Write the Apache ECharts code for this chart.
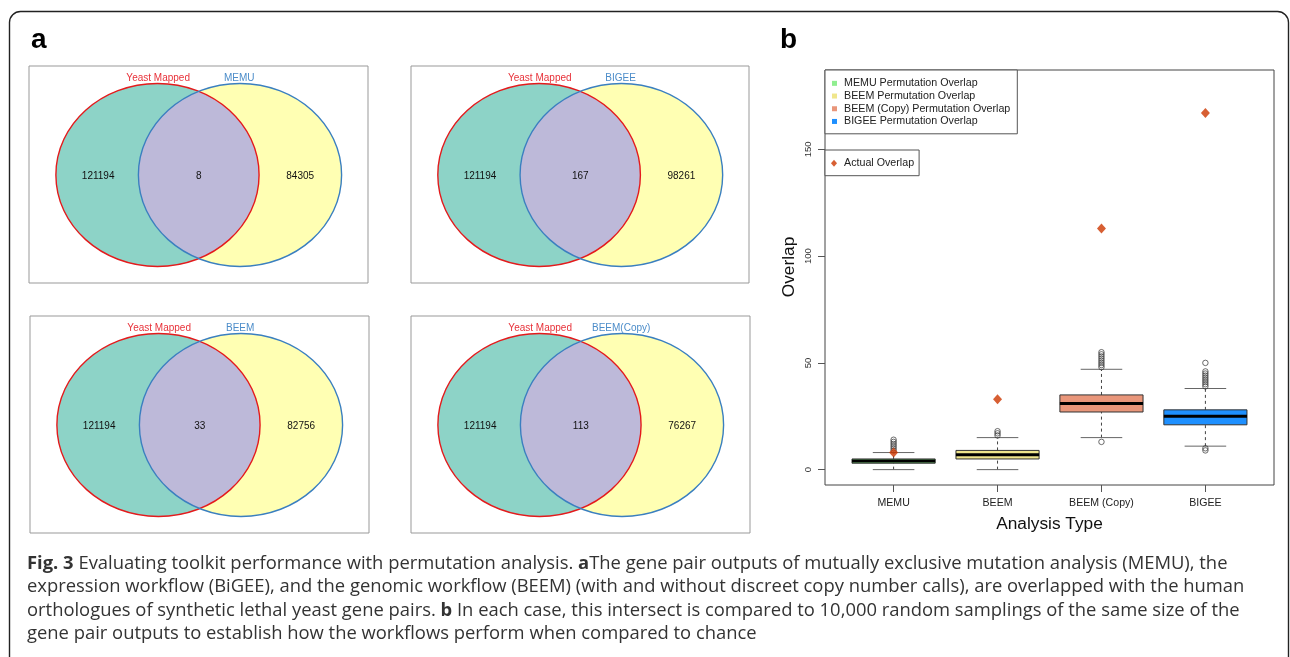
<!DOCTYPE html>
<html><head><meta charset="utf-8">
<script src="https://cdn.jsdelivr.net/npm/echarts@6/dist/echarts.min.js"></script>
<style>html,body{margin:0;padding:0;background:#fff}#c{width:1290px;height:657px}</style>
</head><body><div id="c"></div>
<script>
// ---------- Panel a: Venn diagram data ----------
const vennLeftName = 'Yeast Mapped';
const vennRightNames = ['MEMU', 'BIGEE', 'BEEM', 'BEEM(Copy)'];
const vennLeftOnly = [121194, 121194, 121194, 121194];
const vennOverlap = [8, 167, 33, 113];
const vennRightOnly = [84305, 98261, 82756, 76267];

// ---------- Panel b: permutation boxplot data ----------
const categories = ['MEMU', 'BEEM', 'BEEM (Copy)', 'BIGEE'];
const legendNames = ['MEMU Permutation Overlap', 'BEEM Permutation Overlap', 'BEEM (Copy) Permutation Overlap', 'BIGEE Permutation Overlap'];
const whiskerLow = [0, 0, 15, 11];
const quartile1 = [3, 5, 27, 21];
const medians = [4, 7, 31, 25];
const quartile3 = [5, 9, 35, 28];
const whiskerHigh = [8, 15, 47, 38];
const outliersMEMU = [9, 10, 11, 12, 13, 14];
const outliersBEEM = [16, 17, 18];
const outliersBEEMCopy = [13, 48, 49, 50, 51, 52, 53, 54, 55];
const outliersBIGEE = [9, 10, 39, 40, 41, 42, 43, 44, 45, 46, 50];
const actualOverlap = [8, 33, 113, 167];
const yTickValues = [0, 50, 100, 150];
const xTickValues = [1, 2, 3, 4];

// ---------- styling / layout ----------
const boxColors = ['#90ee90', '#f0e68c', '#e9967a', '#1e90ff'];
const RFONT = 'Liberation Sans, Arial, sans-serif';
const vennPanels = [
  {left: 29, top: 66, width: 339, height: 217},
  {left: 411, top: 66, width: 338, height: 217},
  {left: 30, top: 316, width: 339, height: 217},
  {left: 411, top: 316, width: 339, height: 217}
];
const VENN = {cxL: 0.379, cxR: 0.6224, cy: 0.502, rx: 0.2997, ry: 0.4217,
  labelY: 0.055, labelXL: 0.381, labelXR: 0.62, numXL: 0.204, numXM: 0.501, numXR: 0.80, numY: 0.508};

function vennRender(k) {
  return function (params, api) {
    const c1 = api.coord([VENN.cxL, VENN.cy]);
    const c2 = api.coord([VENN.cxR, VENN.cy]);
    const sz = api.size([VENN.rx, VENN.ry]);
    const rx = sz[0], ry = sz[1];
    const mx = (c1[0] + c2[0]) / 2;
    const d = (c2[0] - c1[0]) / 2;
    const h = ry * Math.sqrt(1 - (d / rx) * (d / rx));
    const cy = c1[1];
    const lens = 'M' + mx + ' ' + (cy - h) + ' A' + rx + ' ' + ry + ' 0 0 1 ' + mx + ' ' + (cy + h) +
                 ' A' + rx + ' ' + ry + ' 0 0 1 ' + mx + ' ' + (cy - h) + ' Z';
    const pL = api.coord([VENN.labelXL, VENN.labelY]);
    const pR = api.coord([VENN.labelXR, VENN.labelY]);
    const n1 = api.coord([VENN.numXL, VENN.numY]);
    const n2 = api.coord([VENN.numXM, VENN.numY]);
    const n3 = api.coord([VENN.numXR, VENN.numY]);
    const txt = (p, t, col) => ({type: 'text', style: {text: t, x: p[0], y: p[1], fill: col,
      font: '10px ' + RFONT, align: 'center', verticalAlign: 'middle'}});
    return {type: 'group', children: [
      {type: 'ellipse', shape: {cx: c1[0], cy: cy, rx: rx, ry: ry}, style: {fill: '#8dd3c7'}},
      {type: 'ellipse', shape: {cx: c2[0], cy: cy, rx: rx, ry: ry}, style: {fill: '#ffffb3'}},
      {type: 'path', shape: {pathData: lens}, style: {fill: '#bdb9d9'}},
      {type: 'ellipse', shape: {cx: c1[0], cy: cy, rx: rx, ry: ry}, style: {fill: 'none', stroke: '#e41a1c', lineWidth: 1.4}},
      {type: 'ellipse', shape: {cx: c2[0], cy: cy, rx: rx, ry: ry}, style: {fill: 'none', stroke: '#3a7fc0', lineWidth: 1.4}},
      txt(pL, vennLeftName, '#e8323a'),
      txt(pR, vennRightNames[k], '#4b8cc9'),
      txt(n1, String(vennLeftOnly[k]), '#111'),
      txt(n2, String(vennOverlap[k]), '#111'),
      txt(n3, String(vennRightOnly[k]), '#111')
    ]};
  };
}

function boxRender(params, api) {
  const x = api.value(0);
  const lo = api.coord([x, api.value(1)]);
  const q1 = api.coord([x, api.value(2)]);
  const md = api.coord([x, api.value(3)]);
  const q3 = api.coord([x, api.value(4)]);
  const hi = api.coord([x, api.value(5)]);
  const hw = api.size([0.4, 0])[0];
  const sw = api.size([0.2, 0])[0];
  const cx = lo[0];
  const color = api.visual('color');
  return {type: 'group', children: [
    {type: 'line', shape: {x1: cx, y1: lo[1], x2: cx, y2: q1[1]}, style: {stroke: '#444', lineWidth: 1, lineDash: [3, 3]}},
    {type: 'line', shape: {x1: cx, y1: q3[1], x2: cx, y2: hi[1]}, style: {stroke: '#444', lineWidth: 1, lineDash: [3, 3]}},
    {type: 'line', shape: {x1: cx - sw, y1: lo[1], x2: cx + sw, y2: lo[1]}, style: {stroke: '#666', lineWidth: 1}},
    {type: 'line', shape: {x1: cx - sw, y1: hi[1], x2: cx + sw, y2: hi[1]}, style: {stroke: '#666', lineWidth: 1}},
    {type: 'rect', shape: {x: cx - hw, y: q3[1], width: 2 * hw, height: q1[1] - q3[1]}, style: {fill: color, stroke: '#333', lineWidth: 1}},
    {type: 'line', shape: {x1: cx - hw, y1: md[1], x2: cx + hw, y2: md[1]}, style: {stroke: '#000', lineWidth: 3}}
  ]};
}

const outlierSets = [outliersMEMU, outliersBEEM, outliersBEEMCopy, outliersBIGEE];
const outlierData = [];
outlierSets.forEach((arr, i) => arr.forEach(v => outlierData.push([xTickValues[i], v])));

const grids = vennPanels.map(p => Object.assign({show: true, borderColor: '#999', borderWidth: 1, backgroundColor: 'transparent', outerBoundsMode: 'none'}, p));
grids.push({left: 825, top: 70, width: 449, height: 415, show: true, borderColor: '#444', borderWidth: 1, backgroundColor: 'transparent', outerBoundsMode: 'none'});

const xAxes = vennPanels.map((p, i) => ({type: 'value', gridIndex: i, min: 0, max: 1, show: false}));
const yAxes = vennPanels.map((p, i) => ({type: 'value', gridIndex: i, min: 0, max: 1, inverse: true, show: false}));
xAxes.push({
  type: 'value', gridIndex: 4, min: 0.34, max: 4.66, position: 'bottom',
  axisLine: {show: false, onZero: false}, splitLine: {show: false},
  axisTick: {show: true, customValues: xTickValues, length: 7, lineStyle: {color: '#555'}},
  axisLabel: {show: true, customValues: xTickValues, formatter: v => categories[Math.round(v) - 1], fontSize: 10.6, color: '#222', margin: 13, fontFamily: RFONT},
  name: 'Analysis Type', nameLocation: 'middle', nameGap: 31,
  nameTextStyle: {fontSize: 17.3, color: '#111', fontFamily: RFONT}
});
yAxes.push({
  type: 'value', gridIndex: 4, min: -7.2, max: 187.2, position: 'left',
  axisLine: {show: false, onZero: false}, splitLine: {show: false},
  axisTick: {show: true, customValues: yTickValues, length: 7, lineStyle: {color: '#555'}},
  axisLabel: {show: true, customValues: yTickValues, rotate: 90, fontSize: 9.5, color: '#333', margin: 12, fontFamily: RFONT},
  name: 'Overlap', nameLocation: 'middle', nameGap: 27,
  nameTextStyle: {fontSize: 17.3, color: '#111', fontFamily: RFONT, padding: [0, 0, 0, 21]}
});

const series = [];
vennPanels.forEach((p, i) => series.push({
  type: 'custom', name: 'venn' + i, coordinateSystem: 'cartesian2d', xAxisIndex: i, yAxisIndex: i,
  data: [[0.5, 0.5]], renderItem: vennRender(i), silent: true
}));
categories.forEach((c, i) => series.push({
  type: 'custom', name: legendNames[i], coordinateSystem: 'cartesian2d', xAxisIndex: 4, yAxisIndex: 4,
  itemStyle: {color: boxColors[i]},
  encode: {x: 0, y: [1, 2, 3, 4, 5]},
  data: [[xTickValues[i], whiskerLow[i], quartile1[i], medians[i], quartile3[i], whiskerHigh[i]]],
  renderItem: boxRender, z: 2
}));
series.push({
  type: 'scatter', name: 'Outliers', xAxisIndex: 4, yAxisIndex: 4, data: outlierData,
  symbol: 'circle', symbolSize: 5.5,
  itemStyle: {color: 'rgba(0,0,0,0)', borderColor: '#333', borderWidth: 0.9}, z: 3
});
series.push({
  type: 'scatter', name: 'Actual Overlap', xAxisIndex: 4, yAxisIndex: 4,
  data: actualOverlap.map((v, i) => [xTickValues[i], v]),
  symbol: 'diamond', symbolSize: [9, 10], itemStyle: {color: '#cd3700'}, z: 4
});

const legendText = {fontSize: 10.7, color: '#222', fontFamily: RFONT, lineHeight: 12.7, padding: [0, 0, 0, 2]};
const option = {
  animation: false,
  backgroundColor: '#fff',
  textStyle: {fontFamily: RFONT},
  grid: grids, xAxis: xAxes, yAxis: yAxes, series: series,
  legend: [
    {left: 825, top: 70, orient: 'vertical', selectedMode: false, backgroundColor: '#fff',
     borderColor: '#555', borderWidth: 1, borderRadius: 0, padding: [7, 7, 6, 7], itemGap: 0,
     itemWidth: 5, itemHeight: 5, icon: 'rect', textStyle: legendText,
     data: legendNames.map((n, i) => ({name: n, icon: 'rect', itemStyle: {color: boxColors[i], borderWidth: 0}}))},
    {left: 825, top: 150, orient: 'vertical', selectedMode: false, backgroundColor: '#fff',
     borderColor: '#555', borderWidth: 1, borderRadius: 0, padding: [7, 5, 6, 6], itemGap: 0,
     itemWidth: 6, itemHeight: 7, textStyle: legendText,
     data: [{name: 'Actual Overlap', icon: 'diamond', itemStyle: {color: '#cd3700', borderWidth: 0}}]}
  ],
  graphic: [
    {type: 'rect', z: -10, silent: true, shape: {x: 9.5, y: 11.5, width: 1279, height: 660, r: 11},
     style: {fill: 'none', stroke: '#222', lineWidth: 1.4}},
    {type: 'text', left: 31, top: 26, style: {text: 'a', font: 'bold 28px ' + RFONT, fill: '#000'}},
    {type: 'text', left: 780, top: 26, style: {text: 'b', font: 'bold 28px ' + RFONT, fill: '#000'}},
    {type: 'text', left: 27, top: 552, style: {
      text: '{b|Fig. 3} Evaluating toolkit performance with permutation analysis. {b|a}The gene pair outputs of mutually exclusive mutation analysis (MEMU), the\n' +
            'expression workflow (BiGEE), and the genomic workflow (BEEM) (with and without discreet copy number calls), are overlapped with the human\n' +
            'orthologues of synthetic lethal yeast gene pairs. {b|b} In each case, this intersect is compared to 10,000 random samplings of the same size of the\n' +
            'gene pair outputs to establish how the workflows perform when compared to chance',
      font: '18.4px Open Sans', fill: '#333', lineHeight: 23.4,
      rich: {b: {fontWeight: 'bold', fontFamily: 'Open Sans', fontSize: 18.4, fill: '#333', lineHeight: 23.4}}
    }}
  ]
};
const chart = echarts.init(document.getElementById('c'), null, {renderer: 'canvas'});
chart.setOption(option);
</script>
</body></html>
